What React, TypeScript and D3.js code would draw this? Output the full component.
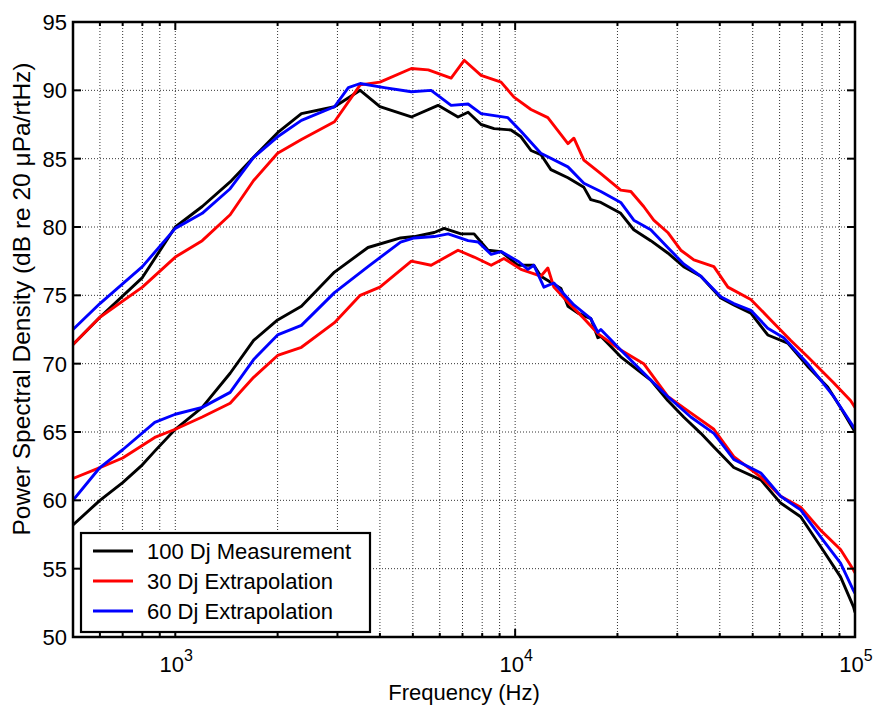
import React from "react";
import * as d3 from "d3";

const W = 875;
const H = 709;

// Frequency ticks / labels
const majorTicks = [1000, 10000, 100000];
const majorTickLabels = [
  { base: "10", exp: "3", value: 1000 },
  { base: "10", exp: "4", value: 10000 },
  { base: "10", exp: "5", value: 100000 },
];
const minorTicks = [
  600, 700, 800, 900, 2000, 3000, 4000, 5000, 6000, 7000, 8000, 9000, 20000,
  30000, 40000, 50000, 60000, 70000, 80000, 90000,
];
const yTicks = [50, 55, 60, 65, 70, 75, 80, 85, 90, 95];

type Pt = [number, number];

// Upper group (frequency Hz, dB)
const black1: Pt[] = [
  [500, 71.4], [600, 73.4], [800, 76.3], [1000, 80.0], [1200, 81.5], [1450, 83.3],
  [1700, 85.1], [2000, 86.9], [2350, 88.3], [2940, 88.8], [3500, 90.0], [4000, 88.8],
  [4950, 88.05], [5930, 88.9], [6790, 88.05], [7270, 88.4], [7940, 87.5], [8670, 87.2],
  [9720, 87.1], [10400, 86.6], [11130, 85.6], [11900, 85.3], [12740, 84.2], [14300, 83.6],
  [15930, 82.9], [16700, 82.0], [17870, 81.8], [20450, 81.0], [22340, 79.8], [25060, 79.0],
  [28120, 78.1], [31320, 77.1], [35190, 76.4], [40280, 74.8], [44000, 74.3], [49370, 73.7],
  [55370, 72.1], [63410, 71.5], [72570, 69.8], [83100, 68.3], [90670, 66.8], [100000, 65.0],
];
const red1: Pt[] = [
  [500, 71.4], [600, 73.4], [800, 75.6], [1000, 77.8], [1200, 79.0], [1450, 80.9],
  [1700, 83.4], [2000, 85.4], [2350, 86.4], [2940, 87.7], [3500, 90.4], [4000, 90.6],
  [4950, 91.6], [5550, 91.5], [6480, 90.9], [7080, 92.2], [7940, 91.1], [9090, 90.6],
  [9920, 89.5], [11130, 88.6], [12480, 88.0], [14300, 86.1], [14890, 86.5], [15930, 84.9],
  [17870, 83.9], [20450, 82.7], [21900, 82.6], [23890, 81.5], [25570, 80.5], [28120, 79.6],
  [30720, 78.3], [33560, 77.6], [38440, 77.1], [42270, 75.6], [49370, 74.7], [56510, 73.2],
  [64720, 71.7], [72570, 70.5], [86500, 68.6], [97000, 67.3], [100000, 66.8],
];
const blue1: Pt[] = [
  [500, 72.5], [600, 74.4], [800, 77.1], [1000, 79.9], [1200, 81.0], [1450, 82.8],
  [1700, 85.1], [2000, 86.6], [2350, 87.8], [2940, 88.8], [3230, 90.2], [3500, 90.5],
  [4120, 90.2], [4950, 89.9], [5660, 90.0], [6480, 88.9], [7270, 89.0], [7940, 88.3],
  [9520, 88.0], [10400, 87.0], [11900, 85.4], [14300, 84.4], [15930, 83.2], [17870, 82.6],
  [20450, 81.8], [22340, 80.5], [25060, 79.8], [28120, 78.5], [31320, 77.3], [35190, 76.4],
  [40280, 74.9], [44000, 74.4], [49370, 73.9], [55370, 72.6], [61700, 71.9], [72570, 70.0],
  [86500, 67.6], [100000, 65.2],
];

// Lower group
const black2: Pt[] = [
  [500, 58.2], [600, 60.0], [700, 61.3], [800, 62.6], [870, 63.6], [1000, 65.2],
  [1200, 66.8], [1450, 69.3], [1700, 71.7], [2000, 73.2], [2350, 74.2], [2940, 76.7],
  [3690, 78.5], [4600, 79.2], [5050, 79.3], [5780, 79.6], [6180, 79.9], [6930, 79.5],
  [7570, 79.5], [8320, 78.3], [9090, 78.2], [10190, 77.2], [11350, 77.2], [11900, 76.4],
  [13640, 75.5], [14300, 74.2], [15300, 73.7], [16700, 73.3], [17510, 71.9], [17870, 72.0],
  [20450, 70.5], [25060, 68.8], [28120, 67.3], [31320, 66.1], [35190, 64.9], [38440, 63.9],
  [43990, 62.4], [52840, 61.5], [60430, 59.8], [69200, 58.8], [79300, 56.6], [90670, 54.4],
  [99000, 52.2], [100000, 51.8],
];
const red2: Pt[] = [
  [500, 61.6], [600, 62.4], [700, 63.1], [870, 64.6], [1000, 65.2], [1200, 66.1],
  [1450, 67.1], [1700, 69.0], [2000, 70.6], [2350, 71.2], [2940, 73.0], [3500, 75.0],
  [4000, 75.6], [4950, 77.5], [5660, 77.2], [6790, 78.3], [7570, 77.8], [8500, 77.2],
  [9270, 77.7], [10400, 76.9], [11900, 76.4], [12480, 77.0], [13000, 75.6], [14300, 74.5],
  [15930, 73.3], [17510, 72.2], [20450, 71.0], [23890, 70.0], [28120, 67.6], [32870, 66.4],
  [38440, 65.2], [43990, 63.2], [52840, 61.7], [60430, 60.3], [69200, 59.5], [79300, 57.8],
  [90670, 56.4], [99000, 54.9], [100000, 54.7],
];
const blue2: Pt[] = [
  [500, 60.0], [600, 62.4], [700, 63.7], [870, 65.7], [1000, 66.3], [1200, 66.8],
  [1450, 67.9], [1700, 70.3], [2000, 72.1], [2350, 72.8], [2940, 75.2], [3690, 77.1],
  [4600, 78.9], [5050, 79.2], [5780, 79.3], [6350, 79.5], [7270, 79.0], [7780, 78.9],
  [8500, 78.0], [9090, 78.2], [10190, 77.5], [10900, 76.9], [11350, 77.2], [12150, 75.6],
  [13000, 75.9], [14890, 74.3], [16700, 73.3], [17510, 72.3], [17870, 72.5], [20450, 71.0],
  [25060, 68.8], [28120, 67.6], [32870, 66.1], [38440, 64.9], [43990, 63.0], [52840, 62.0],
  [60430, 60.3], [69200, 59.3], [79300, 57.3], [90670, 55.4], [99000, 53.4], [100000, 53.2],
];

const seriesNames = ["100 Dj Measurement", "30 Dj Extrapolation", "60 Dj Extrapolation"];
const seriesColors = ["#000000", "#ff0000", "#0000ff"];

const FONT = "'Liberation Sans', Arial, Helvetica, sans-serif";

export default function App() {
  const left = 73, right = 855, top = 22, bottom = 637;
  const x = d3.scaleLog().domain([500, 100000]).range([left, right]);
  const y = d3.scaleLinear().domain([50, 95]).range([bottom, top]);
  const line = d3.line<Pt>().x((d) => x(d[0])).y((d) => y(d[1]));

  const groups: Pt[][][] = [
    [black1, black2],
    [red1, red2],
    [blue1, blue2],
  ];

  const gridX = [...minorTicks, ...majorTicks].filter((v) => v < 100000);
  const gridY = yTicks.filter((v) => v > 50 && v < 95);

  return (
    <svg
      width={W}
      height={H}
      style={{ position: "absolute", left: 0, top: 0, background: "#fff" }}
      fontFamily={FONT}
    >
      <defs>
        <clipPath id="plotclip">
          <rect x={left} y={top} width={right - left} height={bottom - top} />
        </clipPath>
      </defs>
      <rect x={0} y={0} width={W} height={H} fill="#fff" />
      {/* grid */}
      <g stroke="#333" strokeWidth={1} strokeDasharray="1,2">
        {gridX.map((v, i) => (
          <line key={"gx" + i} x1={x(v)} x2={x(v)} y1={top} y2={bottom} />
        ))}
        {gridY.map((v, i) => (
          <line key={"gy" + i} x1={left} x2={right} y1={y(v)} y2={y(v)} />
        ))}
      </g>
      {/* data */}
      <g clipPath="url(#plotclip)" fill="none" strokeWidth={2.9} strokeLinejoin="round">
        {groups.map((g, gi) =>
          g.map((s, si) => (
            <path key={gi + "-" + si} d={line(s) || ""} stroke={seriesColors[gi]} />
          ))
        )}
      </g>
      {/* ticks */}
      <g stroke="#000" strokeWidth={2}>
        {majorTicks.map((v, i) => (
          <g key={"mx" + i}>
            <line x1={x(v)} x2={x(v)} y1={bottom} y2={bottom - 8} />
            <line x1={x(v)} x2={x(v)} y1={top} y2={top + 8} />
          </g>
        ))}
        {minorTicks.map((v, i) => (
          <g key={"nx" + i}>
            <line x1={x(v)} x2={x(v)} y1={bottom} y2={bottom - 4} />
            <line x1={x(v)} x2={x(v)} y1={top} y2={top + 4} />
          </g>
        ))}
        {yTicks.map((v, i) => (
          <g key={"ty" + i}>
            <line x1={left} x2={left + 8} y1={y(v)} y2={y(v)} />
            <line x1={right} x2={right - 8} y1={y(v)} y2={y(v)} />
          </g>
        ))}
      </g>
      {/* axes box */}
      <rect
        x={left}
        y={top}
        width={right - left}
        height={bottom - top}
        fill="none"
        stroke="#000"
        strokeWidth={2.5}
      />
      {/* y tick labels */}
      <g fontSize={22} fill="#000" textAnchor="end">
        {yTicks.map((v, i) => (
          <text key={"yl" + i} x={left - 6} y={y(v) + 8}>
            {v}
          </text>
        ))}
      </g>
      {/* x tick labels */}
      <g fontSize={22} fill="#000" textAnchor="middle">
        {majorTickLabels.map((t, i) => (
          <text key={"xl" + i} x={x(t.value) + 1} y={672}>
            {t.base}
            <tspan fontSize={16} dy={-11}>
              {t.exp}
            </tspan>
          </text>
        ))}
      </g>
      {/* axis labels */}
      <text x={(left + right) / 2} y={700} fontSize={22} textAnchor="middle" fill="#000">
        Frequency (Hz)
      </text>
      <text
        transform={`translate(30, 299) rotate(-90)`}
        fontSize={24.5}
        textAnchor="middle"
        fill="#000"
      >
        Power Spectral Density (dB re 20 μPa/rtHz)
      </text>
      {/* legend */}
      <g>
        <rect x={81} y={533} width={289} height={99} fill="#fff" stroke="#000" strokeWidth={2.2} />
        {seriesNames.map((n, i) => {
          const ly = 551 + i * 30;
          return (
            <g key={"lg" + i}>
              <line x1={93} x2={133} y1={ly} y2={ly} stroke={seriesColors[i]} strokeWidth={2.9} />
              <text x={147} y={ly + 8} fontSize={22} fill="#000">
                {n}
              </text>
            </g>
          );
        })}
      </g>
    </svg>
  );
}
